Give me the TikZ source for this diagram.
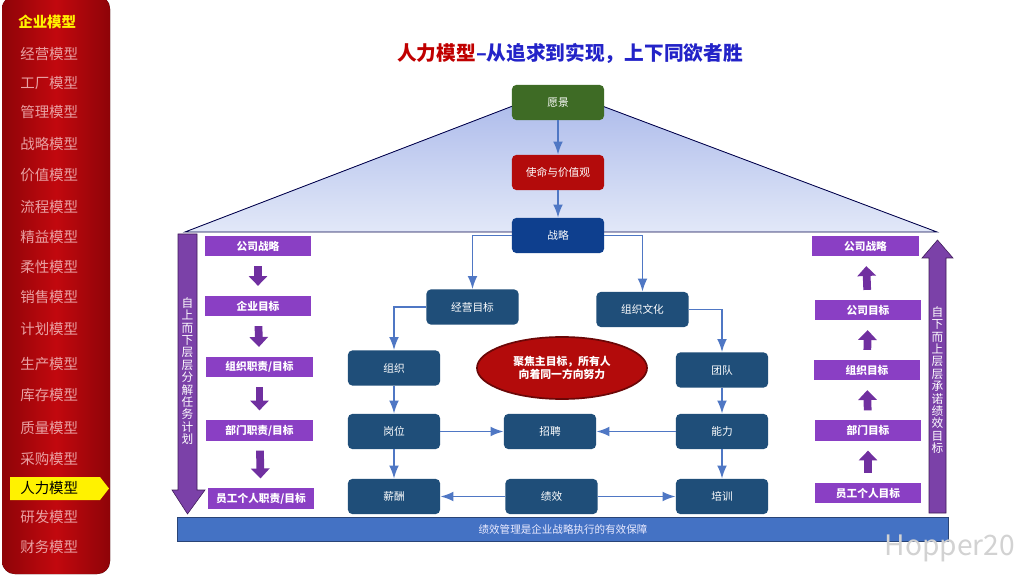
\documentclass[tikz,border=0pt]{standalone}
\usepackage{fontspec}
\setmainfont{Noto Sans CJK SC}
\usepackage{tikz}
\usetikzlibrary{arrows.meta, positioning, shapes.geometric}

\definecolor{sidered}{HTML}{C2080E}
\definecolor{sidedark}{HTML}{8E0408}
\definecolor{sidetext}{HTML}{E9A0A2}
\definecolor{titlered}{HTML}{C00000}
\definecolor{titleblue}{HTML}{2323C8}
\definecolor{roofup}{HTML}{A9B8EA}
\definecolor{roofdown}{HTML}{E2E8F8}
\definecolor{vgreen}{HTML}{3E6B25}
\definecolor{mred}{HTML}{B30B0B}
\definecolor{sblue}{HTML}{0E3F8E}
\definecolor{nblue}{HTML}{1F4E79}
\definecolor{lblue}{HTML}{4F77C4}
\definecolor{pboxc}{HTML}{8A3FC4}
\definecolor{parr}{HTML}{7030A0}
\definecolor{barblue}{HTML}{4472C4}

\begin{document}
\begin{tikzpicture}[x=0.025cm, y=-0.025cm, >=Latex,
    side/.style ={anchor=west, text=sidetext, font=\fontsize{10.3}{12}\selectfont, inner sep=0pt},
    nbox/.style ={fill=nblue, rounded corners=3pt, minimum width=2.3cm, minimum height=0.875cm, text=white, font=\fontsize{7.6}{9}\selectfont, inner sep=0pt},
    pbox/.style ={fill=pboxc, minimum width=2.65cm, minimum height=0.5cm, text=white, font=\bfseries\fontsize{7.6}{9}\selectfont, inner sep=0pt},
    link/.style ={->, line width=1.4pt, lblue},
    pdown/.style={line width=5.5pt, parr, -{Triangle[length=7pt, width=13pt]}, shorten <=7pt, shorten >=7pt},
    bigarr/.style={fill=parr!92, draw=parr!55!black, line width=0.4pt},
    vtext/.style={text=white, align=center, font=\fontsize{8.3}{8.8}\selectfont, inner sep=0pt}]
    \useasboundingbox[fill=white] (0,0) rectangle (1024,576);
    % sidebar
    \fill[left color=sidedark, right color=sidedark, middle color=sidered, rounded corners=9pt]
      (2,-4) rectangle (110,574);
    \fill[yellow] (10,477) -- (100,477) -- (109,488.5) -- (100,500) -- (10,500) -- cycle;
    \node[side, text=yellow, font=\bfseries\fontsize{10.3}{12}\selectfont] (m0) at (18,22) {企业模型};
    \foreach \t/\y [count=\i] in {经营模型/54, 工厂模型/83, 管理模型/112, 战略模型/144, 价值模型/175,
        流程模型/207, 精益模型/237, 柔性模型/267, 销售模型/297, 计划模型/329, 生产模型/364,
        库存模型/395, 质量模型/428, 采购模型/459, 研发模型/517, 财务模型/547}
      \node[side] (m\i) at (20,\y) {\t};
    \node[side, text=black] (mhr) at (20,488.5) {人力模型};
    % title
    \node[font=\bfseries\fontsize{14}{16}\selectfont] (title) at (570,53)
      {\textcolor{titlered}{人力模型}\textcolor{titleblue}{–从追求到实现，上下同欲者胜}};
    % roof
    \fill[top color=roofup, bottom color=roofdown] (185,232) -- (557,89) -- (937,232) -- cycle;
    \draw[draw=black!70!blue, line width=0.6pt] (185,232) -- (557,89) -- (937,232) -- cycle;
    % top of the model
    \node[nbox, fill=vgreen] (yj) at (558,102.5) {愿景};
    \node[nbox, fill=mred]   (sm) at (558,172.5) {使命与价值观};
    \node[nbox, fill=sblue]  (zl) at (558,235.5) {战略};
    \node[nbox] (jy) at (472.5,307)   {经营目标};
    \node[nbox] (wh) at (642.5,309.5) {组织文化};
    \node[nbox] (zz) at (394,368)     {组织};
    \node[nbox] (td) at (722,370)     {团队};
    \node[nbox] (gw) at (394,431.5)   {岗位};
    \node[nbox] (zp) at (550,431.5)   {招聘};
    \node[nbox] (nl) at (722,431.5)   {能力};
    \node[nbox] (xc) at (394,496.5)   {薪酬};
    \node[nbox] (jx) at (551.5,496.5) {绩效};
    \node[nbox] (px) at (722,496.5)   {培训};
    \node[ellipse, fill=mred, draw=mred!60!black, line width=1.2pt, minimum width=4.25cm, minimum height=1.55cm,
          text=white, align=center, font=\bfseries\fontsize{7.7}{9.5}\selectfont] (focus) at (562,368)
      {聚焦主目标，所有人\\向着同一方向努力};
    % connectors
    \draw[link] (yj) -- (sm);
    \draw[link] (sm) -- (zl);
    \draw[link] (zl.west) -| (jy.north);
    \draw[link] (zl.east) -| (wh.north);
    \draw[link] (jy.west) -| (zz.north);
    \draw[link] (wh.east) -| (td.north);
    \draw[link] (zz) -- (gw);
    \draw[link] (td) -- (nl);
    \draw[link] (gw) -- (zp);
    \draw[link] (nl) -- (zp);
    \draw[link] (gw) -- (xc);
    \draw[link] (nl) -- (px);
    \draw[link] (jx) -- (xc);
    \draw[link] (jx) -- (px);
    % left column
    \node[pbox] (l1) at (258,246)     {公司战略};
    \node[pbox] (l2) at (258,306)     {企业目标};
    \node[pbox] (l3) at (259.5,367)   {组织职责/目标};
    \node[pbox] (l4) at (259.5,430.5) {部门职责/目标};
    \node[pbox] (l5) at (261,498.5)   {员工个人职责/目标};
    \foreach \a/\b in {l1/l2, l2/l3, l3/l4, l4/l5}
      \draw[pdown] (\a) -- (\b);
    \filldraw[bigarr] (178,234) -- (197,234) -- (197,490) -- (205,490) -- (187.5,514) -- (172,490) -- (178,490) -- cycle;
    \node[vtext] (down) at (187.5,371) {自\\上\\而\\下\\层\\层\\分\\解\\任\\务\\计\\划};
    % right column
    \node[pbox] (r1) at (865.5,246) {公司战略};
    \node[pbox] (r2) at (868,310)   {公司目标};
    \node[pbox] (r3) at (867,370)   {组织目标};
    \node[pbox] (r4) at (868,430.5) {部门目标};
    \node[pbox] (r5) at (868,493)   {员工个人目标};
    \foreach \a/\b in {r5/r4, r4/r3, r3/r2, r2/r1}
      \draw[pdown] (\a) -- (\b);
    \filldraw[bigarr] (929,513) -- (946,513) -- (946,258) -- (953,258) -- (937.5,240) -- (922,258) -- (929,258) -- cycle;
    \node[vtext] (up) at (937.5,380) {自\\下\\而\\上\\层\\层\\承\\诺\\绩\\效\\目\\标};
    % bottom bar
    \node[fill=barblue, draw=barblue!60!black, line width=0.6pt, minimum width=19.25cm, minimum height=0.6cm,
          text=blue!8, font=\fontsize{7.5}{9}\selectfont, inner sep=0pt] (bar) at (563,529)
      {绩效管理是企业战略执行的有效保障};
    \node[text=gray!35, font=\fontsize{20}{22}\selectfont] (wm) at (950,548) {Hopper20};
\end{tikzpicture}
\end{document}
